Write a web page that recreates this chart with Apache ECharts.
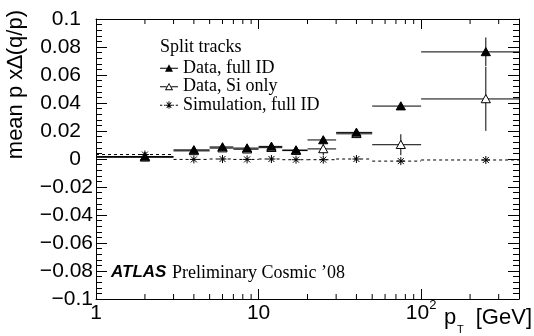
<!DOCTYPE html>
<html><head><meta charset="utf-8">
<script src="https://cdn.jsdelivr.net/npm/echarts@6/dist/echarts.min.js"></script>
<style>html,body{margin:0;padding:0;background:#fff}#c{width:534px;height:336px}</style>
</head><body><div id="c"></div><script>
// ---- data ----
const binLo      = [1, 3, 5, 7, 10, 14, 20, 30, 50, 100];
const binHi      = [3, 5, 7, 10, 14, 20, 30, 50, 100, 400];
const binCenters = [2, 4, 6, 8.5, 12, 17, 25, 40, 75, 250];
const fullIdVals = [0.0018, 0.0065, 0.0086, 0.0078, 0.0090, 0.0064, 0.0136, 0.0190, 0.0378, 0.0765];
const fullIdErrs = [0.0015, 0.0015, 0.0015, 0.0015, 0.0015, 0.0015, 0.0025, 0.0020, 0.0025, 0.0103];
const siOnlyVals = [0.0012, 0.0058, 0.0078, 0.0070, 0.0081, 0.0060, 0.0072, 0.0180, 0.0102, 0.0429];
const siOnlyErrs = [0.0020, 0.0020, 0.0020, 0.0020, 0.0020, 0.0020, 0.0045, 0.0030, 0.0075, 0.0228];
const simVals    = [0.0032, -0.0003, 0.0000, -0.0003, 0.0000, -0.0005, -0.0005, 0.0000, -0.0015, -0.0007];
const simErrs    = [0.0010, 0.0010, 0.0010, 0.0010, 0.0010, 0.0010, 0.0010, 0.0010, 0.0010, 0.0010];
const seriesNames = ['Data, full ID', 'Data, Si only', 'Simulation, full ID'];
const xMinorTicks = [2, 3, 4, 5, 6, 7, 8, 9, 20, 30, 40, 50, 60, 70, 80, 90, 200, 300];
const legendTitle = 'Split tracks';
const yTitle = 'mean p x\u2206(q/p)';

const SANS = '"Liberation Sans", Arial, Helvetica, sans-serif';
const SERIF = '"Liberation Serif", "Times New Roman", serif';

function rows(vals, errs) {
  return binCenters.map((c, i) => [c, vals[i], binLo[i], binHi[i], errs[i]]);
}

function makeRender(marker, dashed) {
  return function (params, api) {
    const c = api.value(0), v = api.value(1), lo = api.value(2), hi = api.value(3), e = api.value(4);
    const pL = api.coord([lo, v]), pR = api.coord([hi, v]), pC = api.coord([c, v]);
    const pT = api.coord([c, v + e]), pB = api.coord([c, v - e]);
    const ls = { stroke: '#000', lineWidth: 1 };
    if (dashed) ls.lineDash = [3, 3];
    const children = [
      { type: 'line', shape: { x1: pL[0], y1: pL[1], x2: pR[0], y2: pR[1] }, style: ls },
      { type: 'line', shape: { x1: pT[0], y1: pT[1], x2: pB[0], y2: pB[1] }, style: ls }
    ];
    const x = pC[0], y = pC[1];
    if (marker === 'filled' || marker === 'open') {
      children.push({ type: 'polygon',
        shape: { points: [[x, y - 4.3], [x - 4.6, y + 3.8], [x + 4.6, y + 3.8]] },
        style: { fill: marker === 'filled' ? '#000' : '#fff', stroke: '#000', lineWidth: 1 } });
    } else {
      const s = 4, d = 3;
      const st = { stroke: '#000', lineWidth: 1 };
      children.push(
        { type: 'line', shape: { x1: x - s, y1: y, x2: x + s, y2: y }, style: st },
        { type: 'line', shape: { x1: x, y1: y - s, x2: x, y2: y + s }, style: st },
        { type: 'line', shape: { x1: x - d, y1: y - d, x2: x + d, y2: y + d }, style: st },
        { type: 'line', shape: { x1: x - d, y1: y + d, x2: x + d, y2: y - d }, style: st }
      );
    }
    return { type: 'group', children };
  };
}

const iconFilled = 'path://M0,5.3L20,5.3L20,6.3L0,6.3Z M5.6,9.6L10,1.5L14.4,9.6Z';
const iconOpen = 'path://M0,5.3L7.4,5.3L7.4,6.3L0,6.3Z M12.6,5.3L20,5.3L20,6.3L12.6,6.3Z ' +
  'M5.4,9.6L10,1.5L14.6,9.6Z M7.1,8.7L12.9,8.7L10,3.4Z';
const iconStar = 'path://M0,5.3L2.5,5.3L2.5,6.3L0,6.3Z M4.5,5.3L6,5.3L6,6.3L4.5,6.3Z ' +
  'M14,5.3L15.5,5.3L15.5,6.3L14,6.3Z M17.5,5.3L20,5.3L20,6.3L17.5,6.3Z ' +
  'M6.3,5.3L13.7,5.3L13.7,6.3L6.3,6.3Z M9.5,1.5L10.5,1.5L10.5,9.6L9.5,9.6Z ' +
  'M7.1,2.8L7.8,2.1L12.9,8.4L12.2,9.1Z M12.2,2.1L12.9,2.8L7.8,9.1L7.1,8.4Z';

function yFmt(v) {
  const s = String(Number(v.toFixed(3))).replace('-', '\u2212');
  return v < -1e-9 ? '{n|' + s + '}' : '{p|' + s + '}';
}
function xFmt(v) {
  const l = Math.log10(v);
  if (Math.abs(l - Math.round(l)) > 1e-6) return '';
  const n = Math.round(l);
  if (n === 0) return '{a|1}';
  if (n === 1) return '{a|10}';
  return '{a|10}{s|' + n + '}';
}

const axisLine = { show: true, onZero: false, lineStyle: { color: '#000', width: 1 } };
const chart = echarts.init(document.getElementById('c'), null, { renderer: 'canvas' });
chart.setOption({
  animation: false,
  backgroundColor: '#fff',
  grid: { left: 96, right: 15, top: 19, bottom: 37, containLabel: false },
  xAxis: [
    { type: 'log', logBase: 10, min: 1, max: 400, position: 'bottom',
      axisLine, splitLine: { show: false },
      axisTick: { show: true, inside: true, length: 10, lineStyle: { color: '#000' } },
      axisLabel: { show: true, margin: 0, formatter: xFmt, showMinLabel: true, showMaxLabel: true,
        rich: { a: { fontFamily: SANS, fontSize: 21, color: '#000', lineHeight: 28 },
                s: { fontFamily: SANS, fontSize: 13, color: '#000', lineHeight: 13, verticalAlign: 'top' } } } },
    { type: 'log', logBase: 10, min: 1, max: 400, position: 'top',
      axisLine, splitLine: { show: false },
      axisTick: { show: true, inside: true, length: 10, lineStyle: { color: '#000' } },
      axisLabel: { show: false } }
  ],
  yAxis: [
    { type: 'value', min: -0.1, max: 0.1, interval: 0.02, position: 'left',
      axisLine, splitLine: { show: false },
      axisTick: { show: true, inside: true, length: 11, lineStyle: { color: '#000' } },
      minorTick: { show: true, splitNumber: 5, length: 6, lineStyle: { color: '#000' } },
      axisLabel: { margin: 3, formatter: yFmt, showMinLabel: true, showMaxLabel: true,
        rich: { p: { fontFamily: SANS, fontSize: 21, color: '#000', padding: [0, 12, 0, 0] },
                n: { fontFamily: SANS, fontSize: 21, color: '#000' } } } },
    { type: 'value', min: -0.1, max: 0.1, interval: 0.02, position: 'right',
      axisLine, splitLine: { show: false },
      axisTick: { show: true, inside: true, length: 11, lineStyle: { color: '#000' } },
      minorTick: { show: true, splitNumber: 5, length: 6, lineStyle: { color: '#000' } },
      axisLabel: { show: false } }
  ],
  legend: {
    orient: 'vertical', left: 160, top: 59, padding: 0, itemWidth: 18, itemHeight: 9, itemGap: 0.5,
    selectedMode: false,
    textStyle: { fontFamily: SERIF, fontSize: 18, color: '#000', lineHeight: 18 },
    data: [
      { name: seriesNames[0], icon: iconFilled },
      { name: seriesNames[1], icon: iconOpen },
      { name: seriesNames[2], icon: iconStar }
    ]
  },
  graphic: [
    { type: 'text', x: 160, y: 47, style: { text: legendTitle, font: '18px ' + SERIF, fill: '#000',
      align: 'left', textAlign: 'left', verticalAlign: 'middle', textVerticalAlign: 'middle' } },
    { type: 'text', x: 111, y: 272, style: { text: 'ATLAS', font: 'italic bold 17px ' + SANS, fill: '#000',
      align: 'left', textAlign: 'left', verticalAlign: 'middle', textVerticalAlign: 'middle' } },
    { type: 'text', x: 172, y: 273, style: { text: 'Preliminary Cosmic \u201908', font: '18px ' + SERIF, fill: '#000',
      align: 'left', textAlign: 'left', verticalAlign: 'middle', textVerticalAlign: 'middle' } },
    { type: 'text', x: 16, y: 10, rotation: Math.PI / 2, style: { text: yTitle, font: '22px ' + SANS, fill: '#000',
      align: 'right', textAlign: 'right', verticalAlign: 'middle', textVerticalAlign: 'middle' } },
    { type: 'text', x: 444, y: 318, style: { text: 'p', font: '22px ' + SANS, fill: '#000',
      align: 'left', textAlign: 'left', verticalAlign: 'middle', textVerticalAlign: 'middle' } },
    { type: 'text', x: 457, y: 330, style: { text: 'T', font: '11px ' + SANS, fill: '#000',
      align: 'left', textAlign: 'left', verticalAlign: 'middle', textVerticalAlign: 'middle' } },
    { type: 'text', x: 532, y: 318, style: { text: '[GeV]', font: '22px ' + SANS, fill: '#000',
      align: 'right', textAlign: 'right', verticalAlign: 'middle', textVerticalAlign: 'middle' } }
  ],
  series: [
    { type: 'custom', name: 'xminor', silent: true, xAxisIndex: 0, yAxisIndex: 0,
      data: xMinorTicks.map(v => [v, 0]), encode: { x: 0, y: 1 },
      renderItem: function (params, api) {
        const b = api.coord([api.value(0), -0.1]), t = api.coord([api.value(0), 0.1]);
        const st = { stroke: '#000', lineWidth: 1 };
        return { type: 'group', children: [
          { type: 'line', shape: { x1: b[0], y1: b[1], x2: b[0], y2: b[1] - 5 }, style: st },
          { type: 'line', shape: { x1: t[0], y1: t[1], x2: t[0], y2: t[1] + 5 }, style: st } ] };
      } },
    { type: 'custom', name: seriesNames[2], z: 2, itemStyle: { color: '#000' },
      data: rows(simVals, simErrs), encode: { x: 0, y: 1 }, renderItem: makeRender('star', true) },
    { type: 'custom', name: seriesNames[1], z: 3, itemStyle: { color: '#000' },
      data: rows(siOnlyVals, siOnlyErrs), encode: { x: 0, y: 1 }, renderItem: makeRender('open', false) },
    { type: 'custom', name: seriesNames[0], z: 4, itemStyle: { color: '#000' },
      data: rows(fullIdVals, fullIdErrs), encode: { x: 0, y: 1 }, renderItem: makeRender('filled', false) }
  ]
});
</script></body></html>
